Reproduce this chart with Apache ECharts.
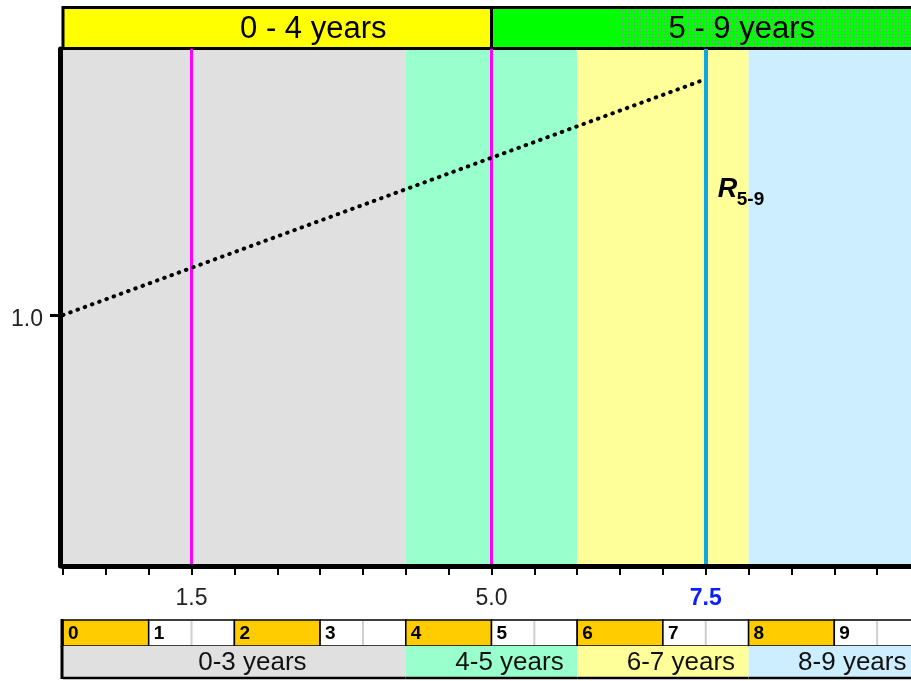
<!DOCTYPE html>
<html><head><meta charset="utf-8">
<script src="https://cdn.jsdelivr.net/npm/echarts@6/dist/echarts.min.js"></script>
<style>html,body{margin:0;padding:0;background:#fff}#c{width:911px;height:681px}</style>
</head><body><div id="c"></div>
<script>
// ---------- data ----------
const xMin = 0, xMax = 10;
const yMin = 0.5, yMax = 1.53;
const rLine = [[0, 1.0], [7.5, 1.47]];
const markerValues = [1.5, 5.0, 7.5];
const xLabelValues = [1.5, 5.0, 7.5];
const highlightLabel = 7.5;
const yLabelValues = [1.0];
const periodLabels = ['0 - 4 years', '5 - 9 years'];
const periodFrom = [0, 5];
const periodTo = [5, 10];
const patternFrom = 6.5;
const yearCells = [0, 1, 2, 3, 4, 5, 6, 7, 8, 9];
const ageLabels = ['0-3 years', '4-5 years', '6-7 years', '8-9 years'];
const ageFrom = [0, 4, 6, 8];
const ageTo = [4, 6, 8, 10];
const rLabelText = 'R';
const rLabelSub = '5-9';
const rLabelAt = [7.5, 1.25];

// ---------- styles ----------
const FONT = '"Liberation Sans", Arial, Helvetica, sans-serif';
const ageColors = ['#e0e0e0', '#99ffcc', '#ffff99', '#cceeff'];
const periodColors = ['#ffff00', '#00ff00'];
const markerColors = ['#ff00ff', '#ff00ff', '#12a5e3'];
const markerWidths = [3, 3, 4];

const pc = document.createElement('canvas');
pc.width = 3; pc.height = 3;
const g = pc.getContext('2d');
g.fillStyle = '#00ff00'; g.fillRect(0, 0, 3, 3);
g.fillStyle = '#b468c8'; g.fillRect(1, 1, 1, 1);

const GL = 63, GW = 857;
const chart = echarts.init(document.getElementById('c'), null, {renderer: 'canvas'});

function hiddenAxis(i, min, max) {
  return {gridIndex: i, type: 'value', min: min, max: max, show: false, splitLine: {show: false}};
}

const option = {
  animation: false,
  backgroundColor: '#ffffff',
  grid: [
    {left: GL, top: 49, width: GW, height: 517, outerBoundsMode: 'none', containLabel: false},
    {left: GL, top: 7.5, width: GW, height: 41, outerBoundsMode: 'none', containLabel: false},
    {left: GL, top: 620, width: GW, height: 26, outerBoundsMode: 'none', containLabel: false},
    {left: GL, top: 646, width: GW, height: 32, outerBoundsMode: 'none', containLabel: false}
  ],
  xAxis: [
    {
      gridIndex: 0, type: 'value', min: xMin, max: xMax, interval: 0.5, z: 10,
      axisLine: {onZero: false, lineStyle: {color: '#000', width: 5}},
      axisTick: {show: true, length: 9, lineStyle: {color: '#000', width: 2}},
      axisLabel: {
        customValues: xLabelValues, margin: 21, fontSize: 23, color: '#222', fontFamily: FONT,
        formatter: v => Math.abs(v - highlightLabel) < 1e-9 ? '{hl|' + v.toFixed(1) + '}' : v.toFixed(1),
        rich: {hl: {color: '#0a1eff', fontWeight: 'bold', fontSize: 23, fontFamily: FONT}}
      },
      splitLine: {show: false}
    },
    hiddenAxis(1, xMin, xMax), hiddenAxis(2, xMin, xMax), hiddenAxis(3, xMin, xMax)
  ],
  yAxis: [
    {
      gridIndex: 0, type: 'value', min: yMin, max: yMax, offset: 3, z: 10,
      axisLine: {show: true, onZero: false, lineStyle: {color: '#000', width: 5}},
      axisTick: {show: true, customValues: yLabelValues, length: 10, lineStyle: {color: '#000', width: 3}},
      axisLabel: {customValues: yLabelValues, formatter: v => '{a|' + v.toFixed(1) + '}', margin: 17,
                  rich: {a: {fontSize: 23, color: '#222', fontFamily: FONT, padding: [9, 0, 0, 0]}}},
      splitLine: {show: false}
    },
    hiddenAxis(1, 0, 1), hiddenAxis(2, 0, 1), hiddenAxis(3, 0, 1)
  ],
  series: [
    { // background age bands
      type: 'custom', xAxisIndex: 0, yAxisIndex: 0, z: 0, silent: true,
      data: ageFrom.map((f, i) => [f, ageTo[i], i]),
      encode: {x: [0, 1]},
      renderItem: (params, api) => {
        const i = api.value(2);
        const a = api.coord([api.value(0), yMin]);
        const b = api.coord([api.value(1), yMax]);
        return {type: 'rect', shape: {x: a[0], y: b[1], width: b[0] - a[0], height: a[1] - b[1]},
                style: {fill: ageColors[i]}};
      }
    },
    { // dotted R line
      type: 'line', xAxisIndex: 0, yAxisIndex: 0, z: 5,
      data: rLine, symbol: 'none', silent: true,
      lineStyle: {color: '#000', width: 4, type: [0.5, 7.2], cap: 'round'},
      markLine: {
        silent: true, symbol: ['none', 'none'], label: {show: false},
        data: markerValues.map((v, i) => ({xAxis: v, lineStyle: {color: markerColors[i], width: markerWidths[i], type: 'solid'}}))
      }
    },
    { // R5-9 label
      type: 'custom', xAxisIndex: 0, yAxisIndex: 0, z: 6, silent: true,
      data: [rLabelAt],
      renderItem: (params, api) => {
        const p = api.coord([api.value(0), api.value(1)]);
        return {type: 'group', children: [
          {type: 'text', x: p[0] + 12, y: p[1] + 0.5,
           style: {text: rLabelText, fontSize: 27, fontWeight: 'bold', fontStyle: 'italic', fontFamily: FONT, fill: '#000',
                   align: 'left', verticalAlign: 'middle'}},
          {type: 'text', x: p[0] + 31, y: p[1] + 10,
           style: {text: rLabelSub, fontSize: 19, fontWeight: 'bold', fontFamily: FONT, fill: '#000',
                   align: 'left', verticalAlign: 'middle'}}
        ]};
      }
    },
    { // top period band
      type: 'custom', xAxisIndex: 1, yAxisIndex: 1, silent: true,
      data: periodFrom.map((f, i) => [f, periodTo[i], i]),
      encode: {x: [0, 1]},
      renderItem: (params, api) => {
        const i = api.value(2);
        const a = api.coord([api.value(0), 0]);
        const b = api.coord([api.value(1), 1]);
        const x = a[0], y = b[1], w = b[0] - a[0], h = a[1] - b[1];
        const children = [{type: 'rect', shape: {x, y, width: w, height: h}, style: {fill: periodColors[i]}}];
        if (patternFrom > api.value(0) && patternFrom < api.value(1)) {
          const p = api.coord([patternFrom, 0]);
          children.push({type: 'rect', shape: {x: p[0], y, width: b[0] - p[0], height: h},
                         style: {fill: {image: pc, repeat: 'repeat'}}});
        }
        children.push({type: 'rect', shape: {x, y, width: w, height: h}, style: {fill: 'none', stroke: '#000', lineWidth: 3}});
        children.push({type: 'text', x: x + w / 2 + 36, y: y + h / 2 + 1.5,
          style: {text: periodLabels[i], fontSize: 31, fontFamily: FONT, fill: '#000', align: 'center', verticalAlign: 'middle'}});
        return {type: 'group', children};
      }
    },
    { // year cells
      type: 'custom', xAxisIndex: 2, yAxisIndex: 2, silent: true,
      data: yearCells.map(v => [v, 0]),
      renderItem: (params, api) => {
        const yr = api.value(0);
        const a = api.coord([yr, 0]);
        const b = api.coord([yr + 1, 1]);
        const x = a[0], y = b[1], w = b[0] - a[0], h = a[1] - b[1];
        const even = yr % 2 === 0;
        const children = [{type: 'rect', shape: {x, y, width: w, height: h},
          style: {fill: even ? '#ffcc00' : '#ffffff', stroke: '#000', lineWidth: 1.5}}];
        if (!even) {
          children.push({type: 'line', shape: {x1: x + w / 2, y1: y + 1, x2: x + w / 2, y2: y + h - 1},
            style: {stroke: '#cfcfcf', lineWidth: 2}});
        }
        children.push({type: 'text', x: x + 5, y: y + h / 2 + 1,
          style: {text: String(yr), fontSize: 19, fontWeight: 'bold', fontFamily: FONT, fill: '#000', align: 'left', verticalAlign: 'middle'}});
        if (yr === 0) {
          children.push({type: 'line', shape: {x1: x - 1, y1: y - 1, x2: x - 1, y2: y + h + 1}, style: {stroke: '#000', lineWidth: 3}});
        }
        return {type: 'group', children};
      }
    },
    { // age group row
      type: 'custom', xAxisIndex: 3, yAxisIndex: 3, silent: true,
      data: ageFrom.map((f, i) => [f, ageTo[i], i]),
      encode: {x: [0, 1]},
      renderItem: (params, api) => {
        const i = api.value(2);
        const a = api.coord([api.value(0), 0]);
        const b = api.coord([api.value(1), 1]);
        const x = a[0], y = b[1], w = b[0] - a[0], h = a[1] - b[1];
        const children = [
          {type: 'rect', shape: {x, y, width: w, height: h}, style: {fill: ageColors[i]}},
          {type: 'line', shape: {x1: x, y1: y + h, x2: x + w, y2: y + h}, style: {stroke: '#000', lineWidth: 2.5}},
          {type: 'text', x: x + w / 2 + 18, y: y + h / 2 + 1,
           style: {text: ageLabels[i], fontSize: 26, fontFamily: FONT, fill: '#111', align: 'center', verticalAlign: 'middle'}}
        ];
        if (i === 0) {
          children.push({type: 'line', shape: {x1: x - 1, y1: y, x2: x - 1, y2: y + h + 1}, style: {stroke: '#000', lineWidth: 3}});
        }
        return {type: 'group', children};
      }
    }
  ]
};
chart.setOption(option);
</script>
</body></html>
